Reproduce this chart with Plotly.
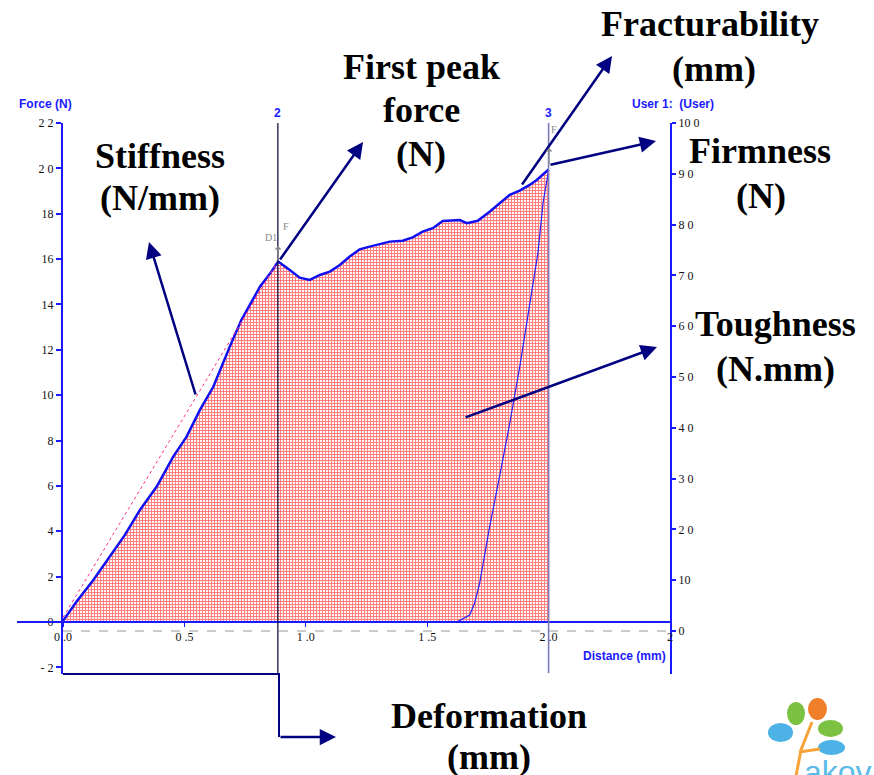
import plotly.graph_objects as go

# force / distance curve
dist = [0.0, 0.056, 0.125, 0.193, 0.255, 0.317, 0.386, 0.454, 0.509, 0.564, 0.619, 0.687,
        0.735, 0.777, 0.811, 0.852, 0.886, 0.934, 0.975, 1.016, 1.058, 1.099, 1.140, 1.181,
        1.222, 1.263, 1.305, 1.346, 1.399, 1.440, 1.481, 1.523, 1.564, 1.634, 1.663, 1.708,
        1.757, 1.798, 1.840, 1.881, 1.922, 1.951, 2.0]
force = [0.05, 0.90, 1.85, 2.88, 3.84, 4.94, 5.97, 7.29, 8.17, 9.35, 10.37, 12.14,
         13.32, 14.12, 14.78, 15.35, 15.89, 15.52, 15.18, 15.08, 15.30, 15.45, 15.74, 16.11,
         16.43, 16.55, 16.67, 16.77, 16.81, 16.96, 17.21, 17.36, 17.68, 17.72, 17.58, 17.69,
         18.09, 18.46, 18.83, 19.02, 19.27, 19.49, 19.95]

# "User 1" channel (right axis)
user_dist = [1.50, 1.620, 1.675, 1.695, 1.716, 1.757, 1.798, 1.840, 1.881, 1.922, 1.956, 1.977, 1.990, 2.0]
user_val = [1.7, 1.7, 3.15, 5.45, 9.4, 20.5, 30.4, 40.9, 52.0, 63.8, 74.4, 84.2, 87.5, 90.7]

# stiffness slope line
slope_x = [0.0, 0.885]
slope_y = [0.2, 15.9]

# markers
marker_x = [0.885, 2.0]
marker_lab = ["2", "3"]

x_ticks = [0.0, 0.5, 1.0, 1.5, 2.0, 2.5]
x_text = ["0 .0", "0 .5", "1 .0", "1 .5", "2 .0", "2"]
y_ticks = [-2, 0, 2, 4, 6, 8, 10, 12, 14, 16, 18, 20, 22]
y_text = ["- 2", "0", "2", "4", "6", "8", "10", "12", "14", "16", "18", "2 0", "2 2"]
y2_ticks = [0, 10, 20, 30, 40, 50, 60, 70, 80, 90, 100]
y2_text = ["0", "10", "2 0", "3 0", "4 0", "5 0", "6 0", "7 0", "8 0", "9 0", "10 0"]

W, H = 874, 775
L, R, T, B = 63, 670, 123, 674


def px(x):
    return (x - L) / (R - L)


def py(y):
    return (B - y) / (B - T)


NAVY = "#000080"
BLUE = "#1a1aff"
serif = "Liberation Serif"
tickfont = dict(family=serif, size=12, color="#111")

fig = go.Figure()
fig.add_trace(go.Scatter(x=dist, y=force, mode="lines", fill="tozeroy",
                         line=dict(color="#1010f0", width=2.5),
                         fillpattern=dict(shape="+", fgcolor="#ff0000", bgcolor="white",
                                          size=3, solidity=0.6),
                         name="Force"))
fig.add_trace(go.Scatter(x=slope_x, y=slope_y, mode="lines",
                         line=dict(color="#ff2d8a", width=1, dash="dot")))
fig.add_trace(go.Scatter(x=user_dist, y=user_val, mode="lines", yaxis="y2",
                         line=dict(color="#2020ff", width=1.2)))

fig.update_layout(
    width=W, height=H, showlegend=False,
    margin=dict(l=L, r=W - R, t=T, b=H - B, autoexpand=False),
    paper_bgcolor="white", plot_bgcolor="white",
    xaxis=dict(range=[0, 2.5], tickvals=x_ticks, ticktext=x_text, showgrid=False,
               zeroline=False, showline=False, ticks="outside", ticklen=4,
               tickcolor=BLUE, anchor="free", position=py(622), tickfont=tickfont),
    yaxis=dict(range=[-2.293, 22.0], tickvals=y_ticks, ticktext=y_text, showgrid=False,
               zeroline=False, showline=True, linecolor=BLUE, linewidth=2,
               ticks="outside", ticklen=5, tickcolor=BLUE, tickwidth=2, tickfont=tickfont),
    yaxis2=dict(range=[-8.46, 100], tickvals=y2_ticks, ticktext=y2_text, overlaying="y",
                side="right", showgrid=False, zeroline=False, showline=True,
                linecolor=BLUE, linewidth=2, ticks="outside", ticklen=4, tickcolor=BLUE,
                tickwidth=2, tickfont=tickfont),
)

shapes = []
# x axis line at Force = 0 and dashed zero of the user channel
shapes.append(dict(type="line", xref="paper", yref="y", x0=px(17), x1=1, y0=0, y1=0,
                   line=dict(color=BLUE, width=2)))
shapes.append(dict(type="line", xref="paper", yref="y2", x0=0, x1=1, y0=0, y1=0,
                   line=dict(color="#999", width=1, dash="dash")))
# marker lines
shapes.append(dict(type="line", xref="x", yref="paper", x0=marker_x[0], x1=marker_x[0],
                   y0=0, y1=1, line=dict(color="#000033", width=1.2)))
shapes.append(dict(type="line", xref="x", yref="paper", x0=marker_x[1], x1=marker_x[1],
                   y0=py(673), y1=1, line=dict(color="#7a7ab8", width=1.6)))
# deformation bracket
shapes.append(dict(type="path", xref="paper", yref="paper",
                   path=f"M {px(63)},{py(674)} L {px(279)},{py(674)} L {px(279)},{py(737)}",
                   line=dict(color=NAVY, width=2)))
# logo
leaves = [((787, 702), (805, 725), "#7cc242"), ((808, 698), (827, 720), "#f07f2a"),
          ((768, 723), (793, 742), "#4db3e6"), ((818, 720), (843, 737), "#7cc242"),
          ((818, 740), (845, 755), "#4db3e6")]
for (a, b, c) in leaves:
    shapes.append(dict(type="circle", xref="paper", yref="paper", x0=px(a[0]), x1=px(b[0]),
                       y0=py(b[1]), y1=py(a[1]), fillcolor=c, line=dict(width=0)))
shapes.append(dict(type="path", xref="paper", yref="paper",
                   path=f"M {px(796)},{py(776)} L {px(801)},{py(750)} L {px(812)},{py(722)}",
                   line=dict(color="#f7a53a", width=3)))
shapes.append(dict(type="path", xref="paper", yref="paper",
                   path=f"M {px(799)},{py(752)} L {px(820)},{py(749)}",
                   line=dict(color="#f7a53a", width=3)))
fig.update_layout(shapes=shapes)

ann = []


def text(t, x, y, size, color, family):
    ann.append(dict(text=t, x=px(x), y=py(y), xref="paper", yref="paper",
                    showarrow=False, xanchor="center", yanchor="middle",
                    font=dict(family=family, size=size, color=color)))


def label(t, x, y):
    text(f"<b>{t}</b>", x, y, 36, "black", serif)


def arrow(tail, head, color=NAVY, width=2.5, size=1.3, headstyle=2):
    ann.append(dict(text="", x=px(head[0]), y=py(head[1]), xref="paper", yref="paper",
                    ax=tail[0] - head[0], ay=tail[1] - head[1], showarrow=True,
                    arrowhead=headstyle, arrowsize=size, arrowwidth=width,
                    arrowcolor=color, standoff=0))


label("Stiffness", 160, 156)
label("(N/mm)", 160, 198)
label("First peak", 421, 67)
label("force", 421, 110)
label("(N)", 421, 154)
label("Fracturability", 710, 24)
label("(mm)", 714, 69)
label("Firmness", 760, 151)
label("(N)", 761, 196)
label("Toughness", 776, 324)
label("(N.mm)", 776, 369)
label("Deformation", 489, 716)
label("(mm)", 489, 757)

arrow((196, 396), (149, 242))
arrow((279, 261), (363, 142))
arrow((521, 186), (612, 56))
arrow((549, 165), (656, 141))
arrow((464, 418), (657, 347))
arrow((279, 737), (336, 737))

# small gray cursor markers
arrow((278, 262), (278, 246), color="#888", width=1.2, size=1, headstyle=1)
arrow((549, 166), (549, 148), color="#888", width=1.2, size=1, headstyle=1)
for t, x, y in [("D1", 271, 237), ("F", 286, 226), ("F", 554, 130)]:
    text(t, x, y, 10, "#888", serif)

# channel / axis titles
for i, m in enumerate(marker_x):
    ann.append(dict(text=f"<b>{marker_lab[i]}</b>", x=m, y=py(104), xref="x", yref="paper",
                    showarrow=False, xanchor="center",
                    font=dict(family="Liberation Sans", size=12, color=BLUE)))
for t, x, y in [("Force (N)", 45, 104), ("User 1:  (User)", 673, 104), ("Distance (mm)", 624, 656)]:
    text(f"<b>{t}</b>", x, y, 12, BLUE, "Liberation Sans")
text("akov", 838, 772, 32, "#5bbbe8", "Liberation Sans")

fig.update_layout(annotations=ann)
fig.write_html("out.html", config={"displayModeBar": False},
               post_script="document.body.style.margin='0px';")
